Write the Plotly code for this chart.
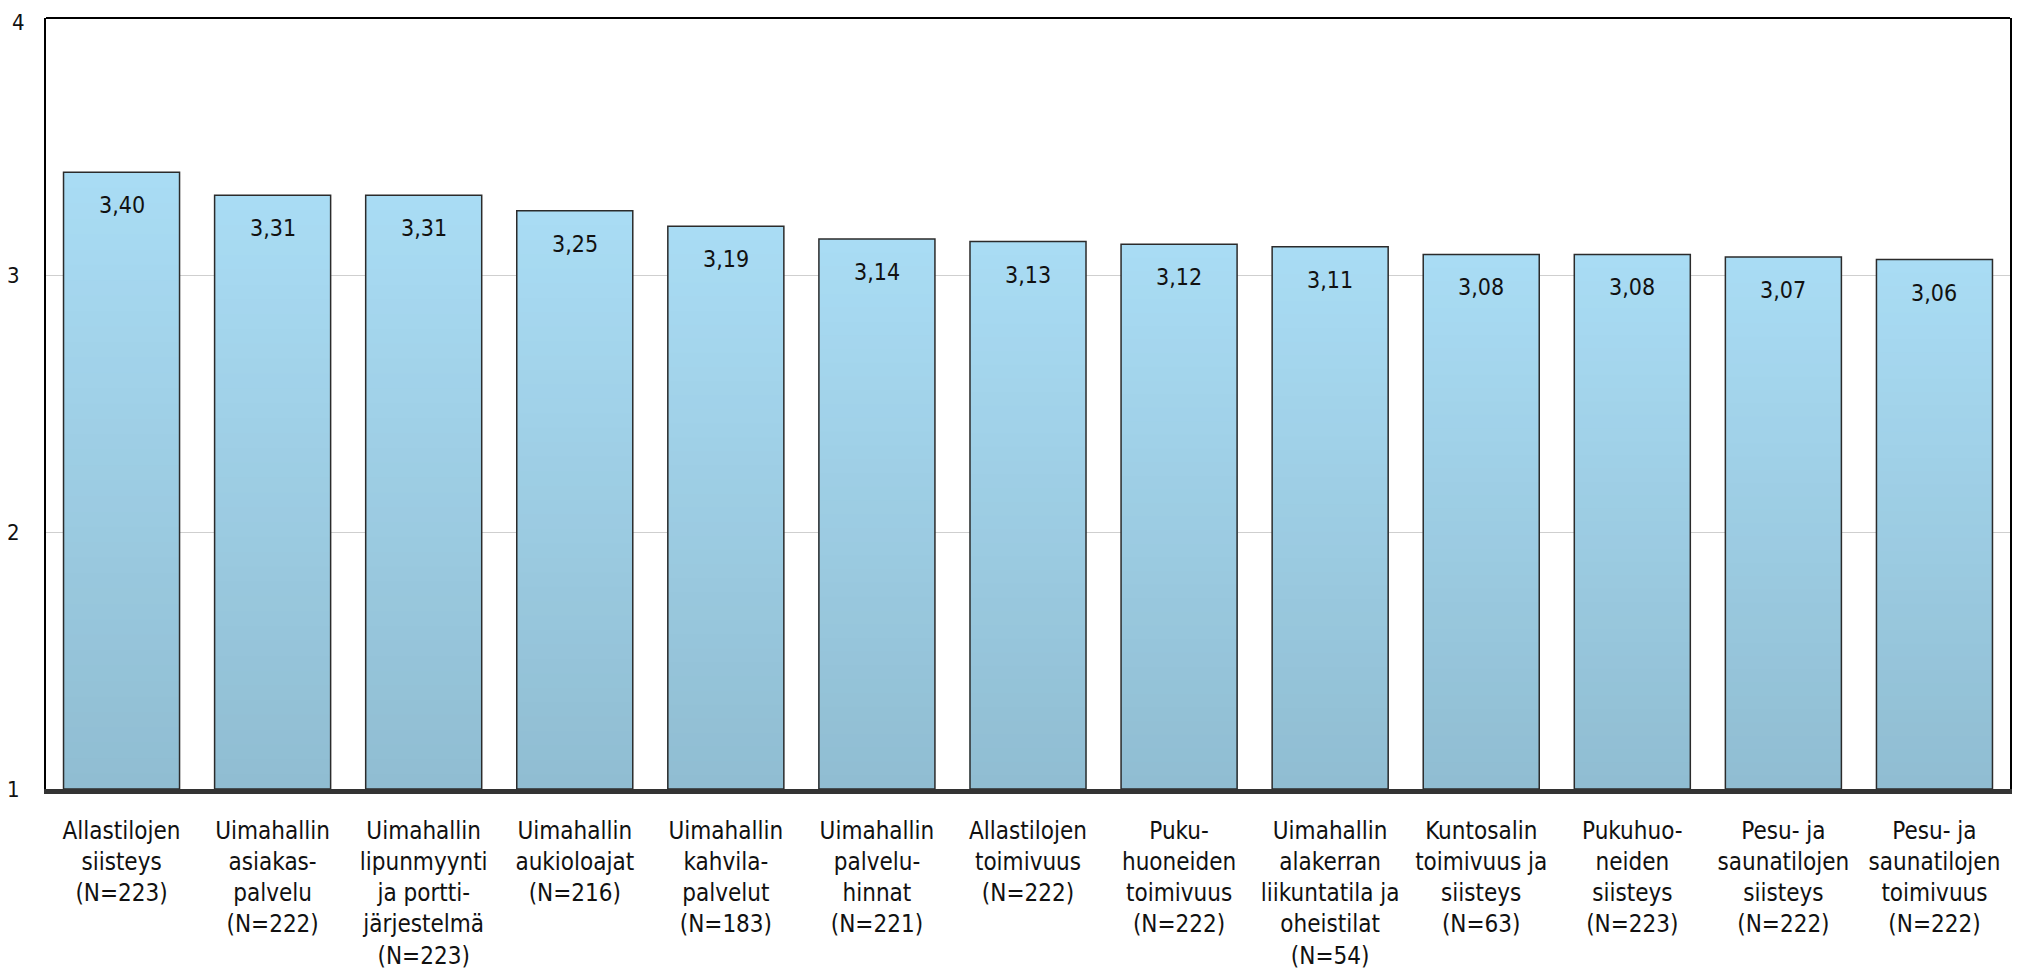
import plotly.graph_objects as go

categories = [
    "Allastilojen<br>siisteys<br>(N=223)",
    "Uimahallin<br>asiakas-<br>palvelu<br>(N=222)",
    "Uimahallin<br>lipunmyynti<br>ja portti-<br>järjestelmä<br>(N=223)",
    "Uimahallin<br>aukioloajat<br>(N=216)",
    "Uimahallin<br>kahvila-<br>palvelut<br>(N=183)",
    "Uimahallin<br>palvelu-<br>hinnat<br>(N=221)",
    "Allastilojen<br>toimivuus<br>(N=222)",
    "Puku-<br>huoneiden<br>toimivuus<br>(N=222)",
    "Uimahallin<br>alakerran<br>liikuntatila ja<br>oheistilat<br>(N=54)",
    "Kuntosalin<br>toimivuus ja<br>siisteys<br>(N=63)",
    "Pukuhuo-<br>neiden<br>siisteys<br>(N=223)",
    "Pesu- ja<br>saunatilojen<br>siisteys<br>(N=222)",
    "Pesu- ja<br>saunatilojen<br>toimivuus<br>(N=222)",
]
values = [3.40, 3.31, 3.31, 3.25, 3.19, 3.14, 3.13, 3.12, 3.11, 3.08, 3.08, 3.07, 3.06]
y_ticks = [1, 2, 3, 4]

AXIS_MIN = 1
FONT = "DejaVu Sans Condensed, DejaVu Sans, sans-serif"
top_rgb = (169, 220, 244)
bot_rgb = (144, 189, 210)
N_STEPS = 40

fig = go.Figure()
xs = list(range(len(categories)))
heights = [v - AXIS_MIN for v in values]

# gradient: nested bars from full height (light) down to short (dark)
for k in range(N_STEPS):
    frac = 1 - k / N_STEPS
    t = k / (N_STEPS - 1)
    c = tuple(round(top_rgb[i] + (bot_rgb[i] - top_rgb[i]) * t) for i in range(3))
    fig.add_trace(go.Bar(
        x=xs, y=[h * frac for h in heights], base=AXIS_MIN,
        marker=dict(color="rgb(%d,%d,%d)" % c, line=dict(width=0)),
        hoverinfo="skip", showlegend=False,
    ))

# outline
fig.add_trace(go.Bar(
    x=xs, y=heights, base=AXIS_MIN,
    marker=dict(color="rgba(0,0,0,0)", line=dict(color="#2b2b2b", width=1.5)),
    showlegend=False,
))

for x, v in zip(xs, values):
    fig.add_annotation(
        x=x, y=v, xref="x", yref="y", text=("%.2f" % v).replace(".", ","),
        showarrow=False, yanchor="top", yshift=-18,
        font=dict(family=FONT, size=23, color="#111111"),
    )

# top tick label drawn as annotation so it stays inside the page
fig.add_annotation(
    x=0, xref="paper", y=y_ticks[-1], yref="y", text=str(y_ticks[-1]),
    showarrow=False, xanchor="right", xshift=-19, yanchor="top", yshift=10,
    font=dict(family=FONT, size=22, color="#111111"),
)

fig.update_layout(
    width=2016, height=971,
    margin=dict(l=38, r=14, t=10, b=190, autoexpand=False),
    paper_bgcolor="white", plot_bgcolor="white",
    barmode="overlay", bargap=0.232,
    font=dict(family=FONT, size=24, color="#111111"),
    showlegend=False,
    shapes=[dict(type="line", xref="paper", yref="paper", x0=0, x1=1, y0=1, y1=1,
                 line=dict(color="black", width=2))],
)
fig.update_xaxes(
    tickmode="array", tickvals=xs, ticktext=categories,
    range=[-0.5, len(categories) - 0.5],
    showline=True, linecolor="#333333", linewidth=5,
    ticks="", showgrid=False, zeroline=False, automargin=False,
    tickfont=dict(family=FONT, size=24, color="#111111"),
    ticklabelstandoff=16, ticklabeloverflow="allow",
)
fig.update_yaxes(
    range=[1, 4], tickmode="array", tickvals=y_ticks[:-1],
    showline=True, linecolor="black", linewidth=2, mirror=True,
    showgrid=True, gridcolor="#cfcfcf", gridwidth=1, zeroline=False,
    automargin=False,
    ticks="", tickfont=dict(family=FONT, size=22, color="#111111"),
    ticklabelstandoff=20, ticklabeloverflow="allow",
)

fig.write_html("out.html")
